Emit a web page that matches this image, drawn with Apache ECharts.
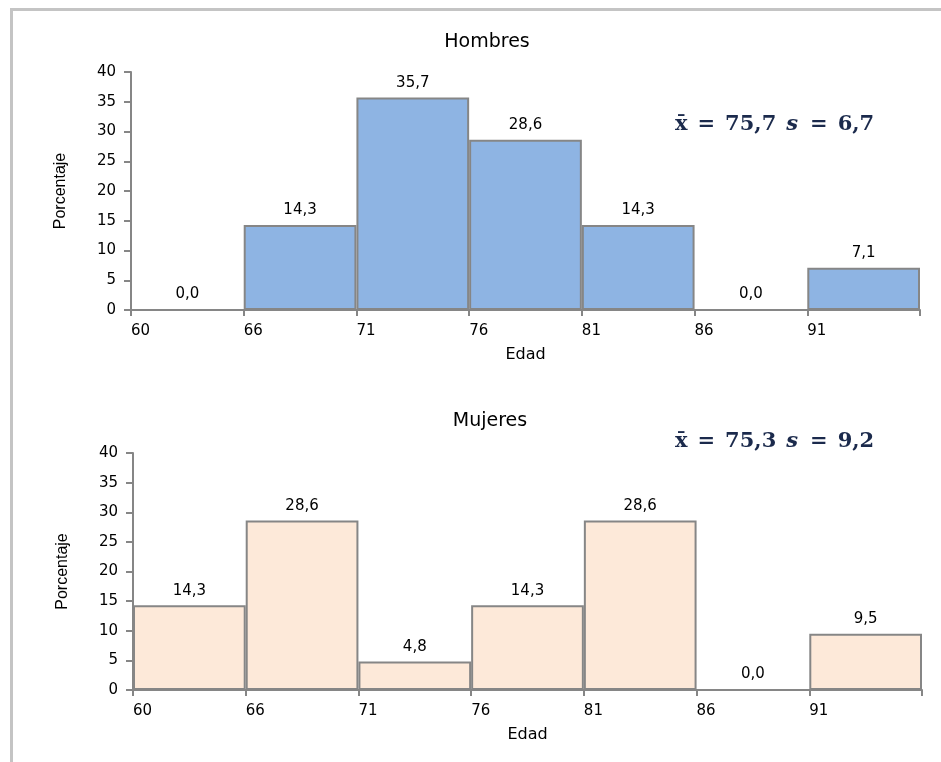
<!DOCTYPE html>
<html>
<head>
<meta charset="utf-8">
<script src="https://cdn.jsdelivr.net/npm/echarts@6/dist/echarts.min.js"></script>
<style>
  html, body { margin: 0; padding: 0; background: #fff; }
  #chart { width: 941px; height: 762px; }
</style>
</head>
<body>
<div id="chart"></div>
<script>
// Age bins (left edges) and percentage of people in each bin
const binLabels = ['60', '66', '71', '76', '81', '86', '91', ''];
const bins = ['60-66', '66-71', '71-76', '76-81', '81-86', '86-91', '91+'];
const hombres = [0.0, 14.3, 35.7, 28.6, 14.3, 0.0, 7.1];
const mujeres = [14.3, 28.6, 4.8, 14.3, 28.6, 0.0, 9.5];
const yTicks = { min: 0, max: 40, step: 5 };

const chart = echarts.init(document.getElementById('chart'));

const tickFont = { fontFamily: 'DejaVu Sans', fontSize: 15, color: '#000' };
const fmt = v => v.toFixed(1).replace('.', ',');

function panel(idx, grid) {
  return {
    grid: Object.assign({ containLabel: false }, grid),
    xCat: {
      type: 'category', gridIndex: idx, data: bins, boundaryGap: true, position: 'bottom',
      axisLine: { show: false }, axisTick: { show: false }, axisLabel: { show: false }
    },
    xVal: {
      type: 'value', gridIndex: idx, min: 0, max: 7, interval: 1, position: 'bottom',
      name: 'Edad', nameLocation: 'middle', nameGap: 37,
      nameTextStyle: { fontFamily: 'DejaVu Sans', fontSize: 16, color: '#000' },
      axisLine: { show: true, onZero: false, lineStyle: { color: '#868686', width: 2 } },
      axisTick: { show: true, length: 6, lineStyle: { color: '#868686', width: 2 } },
      axisLabel: Object.assign({ formatter: v => binLabels[v], align: 'left', margin: 14 }, tickFont),
      splitLine: { show: false }
    },
    y: {
      type: 'value', gridIndex: idx, min: yTicks.min, max: yTicks.max, interval: yTicks.step,
      name: 'Porcentaje', nameLocation: 'middle', nameGap: 62, nameRotate: 90,
      nameTextStyle: { fontFamily: 'Liberation Sans', fontSize: 16, color: '#000' },
      axisLine: { show: true, lineStyle: { color: '#868686', width: 2 } },
      axisTick: { show: true, length: 7, lineStyle: { color: '#868686', width: 2 } },
      axisLabel: Object.assign({ margin: 15 }, tickFont),
      splitLine: { show: false }
    }
  };
}

const p0 = panel(0, { left: 131, right: 21, top: 72, height: 238 });
const p1 = panel(1, { left: 133, right: 19, top: 453, height: 237 });

function barSeries(data, idx, fill) {
  return {
    type: 'bar', data: data, xAxisIndex: idx * 2, yAxisIndex: idx,
    barCategoryGap: '0%',
    itemStyle: { color: fill, borderColor: '#868686', borderWidth: 2 },
    label: {
      show: true, position: 'top', distance: 7,
      formatter: p => fmt(p.value),
      fontFamily: 'DejaVu Sans', fontSize: 15, color: '#000'
    },
    emphasis: { disabled: true },
    silent: true
  };
}

function statText(x, y, mean, sd) {
  const base = { fontFamily: 'DejaVu Serif', fontWeight: 'bold', fontSize: 21, fill: '#1b2a4c' };
  return {
    type: 'text', left: x, top: y,
    style: {
      text: '{m|x\u0304}{o|=}{n|' + mean + '}{s|s}{o|=}{n|' + sd + '}',
      rich: {
        m: Object.assign({}, base),
        o: Object.assign({ padding: [0, 10, 0, 10] }, base),
        n: Object.assign({ padding: [0, 8, 0, 0] }, base),
        s: Object.assign({ fontStyle: 'italic', padding: [0, 2, 0, 2] }, base)
      }
    }
  };
}

chart.setOption({
  animation: false,
  title: [
    { text: 'Hombres', left: 482, top: 28, textAlign: 'center',
      textStyle: { fontFamily: 'DejaVu Sans', fontSize: 19, fontWeight: 'normal', color: '#000' } },
    { text: 'Mujeres', left: 485, top: 407, textAlign: 'center',
      textStyle: { fontFamily: 'DejaVu Sans', fontSize: 19, fontWeight: 'normal', color: '#000' } }
  ],
  grid: [p0.grid, p1.grid],
  xAxis: [p0.xCat, p0.xVal, p1.xCat, p1.xVal],
  yAxis: [p0.y, p1.y],
  series: [
    barSeries(hombres, 0, '#8eb4e3'),
    barSeries(mujeres, 1, '#fde9d9')
  ],
  graphic: [
    { type: 'rect', shape: { x: 10, y: 8, width: 931, height: 3 }, style: { fill: '#c4c4c4' }, silent: true },
    { type: 'rect', shape: { x: 10, y: 8, width: 3, height: 754 }, style: { fill: '#c4c4c4' }, silent: true },
    statText(675, 114, '75,7', '6,7'),
    statText(675, 431, '75,3', '9,2')
  ]
});
</script>
</body>
</html>
